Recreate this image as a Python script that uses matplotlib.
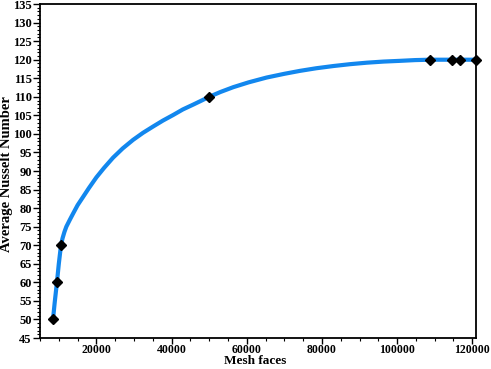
import numpy as np
import matplotlib
matplotlib.use("Agg")
import matplotlib.pyplot as plt
from matplotlib.ticker import MultipleLocator

# Data
mesh_faces = [8450, 9500, 10580, 50010, 108820, 114600, 116820, 120900]
nusselt = [50, 60, 70, 110, 120, 120, 120, 120]

# trend line, values
curve_x = [8450, 8900, 9500, 10000, 10580, 11000, 11500, 12000, 13000, 13780,
           15000, 16440, 18000, 20000, 22000, 24430, 27000, 29760, 32400,
           35090, 37700, 40420, 43000, 45750, 48000, 50010, 53000, 56410,
           60500, 65300, 70000, 74180, 78500, 83060, 87500, 91950, 96400,
           100840, 104800, 108820, 114600, 116820, 120900]
curve_y = [50, 54.5, 60, 65.0, 70, 71.9, 73.6, 75.0, 77.0, 78.5,
           80.8, 83.0, 85.4, 88.3, 90.8, 93.6, 96.1, 98.4, 100.3,
           102.0, 103.6, 105.1, 106.6, 107.9, 109.0, 110, 111.3, 112.6,
           113.9, 115.2, 116.2, 117.0, 117.7, 118.3, 118.8, 119.2, 119.5,
           119.7, 119.9, 120, 120, 120, 120]

plt.rcParams["font.family"] = ["Liberation Serif", "DejaVu Serif"]
plt.rcParams["font.weight"] = "bold"

fig = plt.figure(figsize=(4.91, 3.69), dpi=100)
ax = fig.add_axes([0.0815, 0.084, 0.888, 0.905])

ax.plot(curve_x, curve_y, color="#1287EE", lw=3.0, solid_capstyle="round",
        solid_joinstyle="round", zorder=2)
ax.plot(mesh_faces, nusselt, linestyle="none", marker="D", ms=5.5, color="black",
        clip_on=False, zorder=3)

ax.set_xlim(5000, 121000)
ax.set_ylim(45, 135)
ax.xaxis.set_major_locator(MultipleLocator(20000))
ax.xaxis.set_minor_locator(MultipleLocator(5000))
ax.yaxis.set_major_locator(MultipleLocator(5))
ax.yaxis.set_minor_locator(MultipleLocator(1))

ax.tick_params(which="major", direction="out", length=5, width=1, labelsize=9, pad=1)
ax.tick_params(axis="x", which="major", length=4, pad=0, labelsize=8.5)
ax.tick_params(which="minor", direction="out", length=2.5, width=0.8)
for lab in ax.get_xticklabels() + ax.get_yticklabels():
    lab.set_fontweight("bold")

for sp in ax.spines.values():
    sp.set_linewidth(1.3)

ax.set_xlabel("Mesh faces", fontsize=9.5, fontweight="bold")
ax.set_ylabel("Average Nusselt Number", fontsize=10.5, fontweight="bold")
ax.xaxis.set_label_coords(0.493, -0.052)
ax.yaxis.set_label_coords(-0.063, 0.49)

fig.savefig("out.png", dpi=100)
